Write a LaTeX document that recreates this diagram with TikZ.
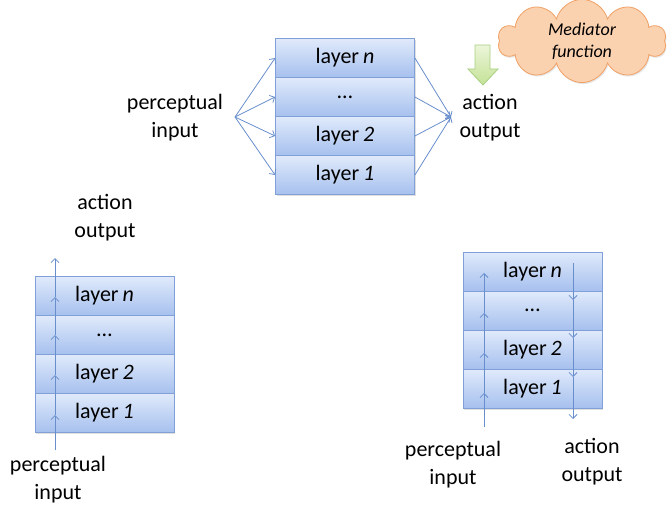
\documentclass[tikz,border=0pt]{standalone}
\usepackage{fontspec}
\setmainfont{Carlito}
\usetikzlibrary{arrows.meta,shapes.symbols,shadows}
\definecolor{arrowblue}{RGB}{104,142,204}
\definecolor{rowborder}{RGB}{128,160,215}
\definecolor{rowtop}{RGB}{224,234,251}
\definecolor{rowbottom}{RGB}{166,192,238}
\definecolor{cloudfill}{RGB}{251,210,176}
\definecolor{cloudborder}{RGB}{240,160,100}
\definecolor{greentop}{RGB}{236,245,218}
\definecolor{greenbottom}{RGB}{196,226,150}
\definecolor{greenborder}{RGB}{168,208,130}
\tikzset{
  layerrow/.style={draw=rowborder, line width=0.8pt, top color=rowtop, bottom color=rowbottom,
    minimum width=139pt, minimum height=39pt, inner sep=0pt,
    font=\fontsize{22}{26}\selectfont,
    drop shadow={opacity=0.25, shadow xshift=1.2pt, shadow yshift=-1.5pt}},
  txt/.style={align=center, inner sep=0pt, font=\fontsize{22}{28}\selectfont},
  conn/.style={draw=arrowblue, line width=0.8pt, -{Straight Barb[length=4pt,width=8pt]}},
}
\newcommand{\lay}[1]{\raisebox{-1.5pt}{layer\hspace{0.18em}\textit{#1}}}
\begin{document}
\begin{tikzpicture}[x=1pt,y=-1pt]
\useasboundingbox (0,0) rectangle (668,505);

% ---------- top stack ----------
\node[layerrow] (tn) at (345,58) {\lay{n}};
\node[layerrow] (td) at (345,97) {\raisebox{-1.5pt}{…}};
\node[layerrow] (t2) at (345,136) {\lay{2}};
\node[layerrow] (t1) at (345,175) {\lay{1}};

\node[txt] (pin) at (175,118) {perceptual\\input};
\node[txt] (aout) at (490,118) {action\\output};
\coordinate (src) at (235,117);
\coordinate (dst) at (451,117);
\foreach \r in {tn,td,t2,t1}{
  \draw[conn] (src) -- (\r.west);
  \draw[conn] (\r.east) -- (dst);
}

% mediator cloud and green arrow
\node[cloud, cloud puffs=10, cloud ignores aspect, minimum width=168pt, minimum height=78pt,
  draw=cloudborder, line width=0.8pt, fill=cloudfill, align=center,
  drop shadow={opacity=0.2, shadow xshift=1pt, shadow yshift=-1.5pt},
  font=\itshape\fontsize{18}{22}\selectfont] (med) at (582,41) {Mediator\\function};
\draw[draw=greenborder, line width=0.8pt, top color=greentop, bottom color=greenbottom]
  (475,45) -- (490,45) -- (490,69) -- (498,69) -- (483,85) -- (468,69) -- (475,69) -- cycle;

% ---------- bottom-left stack ----------
\node[layerrow] (ln) at (104.5,296) {\lay{n}};
\node[layerrow] (ld) at (104.5,335) {\raisebox{-1.5pt}{…}};
\node[layerrow] (l2) at (104.5,374) {\lay{2}};
\node[layerrow] (l1) at (104.5,413) {\lay{1}};
\node[txt] (lout) at (105,218) {action\\output};
\node[txt] (lin) at (58,480) {perceptual\\input};
\coordinate (lb) at (55,450);
\coordinate (lc1) at (55,415);
\coordinate (lc2) at (55,375);
\coordinate (lc3) at (55,335);
\coordinate (lc4) at (55,297);
\coordinate (lt) at (55,258);
\draw[conn] (lb) -- (lc1);
\draw[conn] (lc1) -- (lc2);
\draw[conn] (lc2) -- (lc3);
\draw[conn] (lc3) -- (lc4);
\draw[conn] (lc4) -- (lt);

% ---------- bottom-right stack ----------
\node[layerrow] (rn) at (532.5,271.5) {\lay{n}};
\node[layerrow] (rd) at (532.5,310.5) {\raisebox{-1.5pt}{…}};
\node[layerrow] (r2) at (532.5,349.5) {\lay{2}};
\node[layerrow] (r1) at (532.5,388.5) {\lay{1}};
\node[txt] (rin) at (453,465) {perceptual\\input};
\node[txt] (rout) at (592,462) {action\\output};
\coordinate (ub) at (484,427);
\coordinate (uc1) at (484,393);
\coordinate (uc2) at (484,353);
\coordinate (uc3) at (484,313);
\coordinate (ut) at (484,273);
\draw[conn] (ub) -- (uc1);
\draw[conn] (uc1) -- (uc2);
\draw[conn] (uc2) -- (uc3);
\draw[conn] (uc3) -- (ut);
\coordinate (dt) at (573,263);
\coordinate (dc1) at (573,300);
\coordinate (dc2) at (573,338);
\coordinate (dc3) at (573,377);
\coordinate (db) at (573,419);
\draw[conn] (dt) -- (dc1);
\draw[conn] (dc1) -- (dc2);
\draw[conn] (dc2) -- (dc3);
\draw[conn] (dc3) -- (db);
\end{tikzpicture}
\end{document}
